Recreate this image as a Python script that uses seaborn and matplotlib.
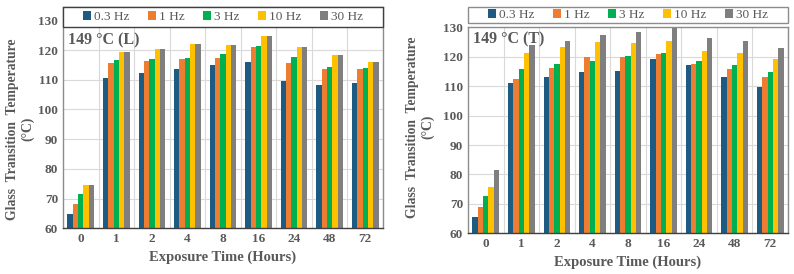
import numpy as np
import pandas as pd
import matplotlib
matplotlib.use("Agg")
import matplotlib.pyplot as plt
from matplotlib.patches import Rectangle
import seaborn as sns

hours = ["0", "1", "2", "4", "8", "16", "24", "48", "72"]
freqs = ["0.3 Hz", "1 Hz", "3 Hz", "10 Hz", "30 Hz"]
colors = ["#1E5B82", "#ED7D31", "#00B050", "#FFC000", "#7F7F7F"]

# 149 °C (L)
l_03 = [64.7, 110.6, 112.2, 113.6, 114.9, 116.0, 109.6, 108.3, 108.8]
l_1 = [68.2, 115.6, 116.4, 117.1, 117.4, 121.2, 115.5, 113.5, 113.7]
l_3 = [71.7, 116.7, 116.9, 117.3, 118.8, 121.4, 117.5, 114.3, 113.8]
l_10 = [74.7, 119.2, 120.3, 122.0, 121.6, 124.6, 120.9, 118.5, 116.1]
l_30 = [74.7, 119.2, 120.3, 122.0, 121.6, 124.6, 120.9, 118.5, 116.1]

# 149 °C (T)
t_03 = [65.6, 111.0, 113.0, 114.7, 115.2, 119.1, 117.1, 113.2, 109.6]
t_1 = [68.8, 112.4, 116.3, 119.8, 119.8, 120.8, 117.6, 115.7, 113.0]
t_3 = [72.8, 115.9, 117.6, 118.4, 120.2, 121.2, 118.7, 117.1, 114.8]
t_10 = [75.9, 121.1, 123.4, 125.0, 124.8, 125.3, 122.1, 121.2, 119.3]
t_30 = [81.6, 124.1, 125.4, 127.3, 128.3, 130.5, 126.4, 125.3, 123.1]


def to_long(series):
    rows = []
    for f, vals in zip(freqs, series):
        for h, v in zip(hours, vals):
            rows.append({"hours": h, "freq": f, "tg": v})
    return pd.DataFrame(rows)


df_l = to_long([l_03, l_1, l_3, l_10, l_30])
df_t = to_long([t_03, t_1, t_3, t_10, t_30])

sns.set_style("white")
plt.rcParams["font.family"] = ["Liberation Serif", "DejaVu Serif"]
txt = "#595959"

fig = plt.figure(figsize=(7.94, 2.74), dpi=100)
ax1 = fig.add_axes([63 / 794, (274 - 228.3) / 274, 320 / 794, 221.3 / 274])
ax2 = fig.add_axes([468 / 794, (274 - 233.3) / 274, 320 / 794, 206 / 274])


def draw(ax, df, ytop, tag, ty, lab_xy):
    sns.barplot(data=df, x="hours", y="tg", hue="freq", order=hours,
                hue_order=freqs, palette=colors, saturation=1, width=0.75,
                linewidth=0, ax=ax, errorbar=None)
    ax.set_ylim(60, ytop)
    ax.set_xlim(-0.5, len(hours) - 0.5)
    ax.set_yticks(np.arange(60, 131, 10))
    ax.set_xticks(np.arange(len(hours)) + 0.5, minor=True)
    ax.grid(True, axis="y", color="#D9D9D9", lw=0.8)
    ax.grid(True, axis="x", which="minor", color="#D9D9D9", lw=0.8)
    ax.set_axisbelow(True)
    ax.tick_params(axis="both", which="both", length=0, colors=txt, labelsize=9.5)
    for lab in ax.get_xticklabels() + ax.get_yticklabels():
        lab.set_fontweight("bold")
    for s in ["left", "right", "top"]:
        ax.spines[s].set_color("#8C8C8C")
        ax.spines[s].set_linewidth(1.0)
    ax.spines["bottom"].set_color("#404040")
    ax.spines["bottom"].set_linewidth(1.0)
    ax.set_xlabel("Exposure Time (Hours)", fontsize=10.5, fontweight="bold", color=txt, labelpad=4)
    ax.set_ylabel("Glass  Transition  Temperature\n(°C)", fontsize=9.8, fontweight="bold",
                  color=txt, linespacing=1.2)
    ax.yaxis.set_label_coords(*lab_xy)
    ax.text(0.015, ty, "149 °C (%s)" % tag, transform=ax.transAxes,
            fontsize=11.5, fontweight="bold", color=txt, va="top", ha="left")
    handles, labels = ax.get_legend_handles_labels()
    ax.get_legend().remove()
    return handles, labels


def legend_box(ax, handles, labels, y0, h, edge):
    box = Rectangle((0, y0), 1, h, transform=ax.transAxes, facecolor="white",
                    edgecolor=edge, lw=1.0, clip_on=False, zorder=5)
    ax.add_patch(box)
    leg = ax.legend(handles, labels, loc="center", bbox_to_anchor=(0.5, y0 + h / 2),
                    ncol=5, fontsize=9.5, frameon=False, handlelength=0.6,
                    handleheight=0.6, handletextpad=0.2, columnspacing=1.45,
                    borderaxespad=0, labelcolor=txt)
    leg.set_zorder(6)


h1, lb1 = draw(ax1, df_l, 134.5, "L", 0.885, (-0.09, 0.449))
h2, lb2 = draw(ax2, df_t, 130, "T", 0.98, (-0.106, 0.516))

legend_box(ax1, h1, lb1, 1 - 20 / 221.3, 20 / 221.3, "#404040")
legend_box(ax2, h2, lb2, 1 + 4 / 206, 16 / 206, "#8C8C8C")

fig.savefig("out.png", dpi=100)
